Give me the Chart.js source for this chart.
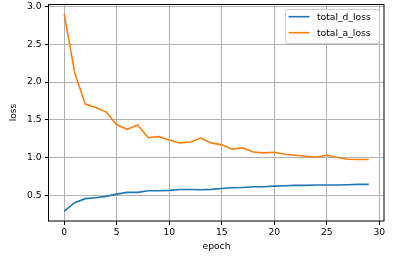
<!DOCTYPE html>
<html>
<head>
<meta charset="utf-8">
<script src="https://cdn.jsdelivr.net/npm/chart.js@4"></script>
<style>
  html, body { margin: 0; padding: 0; background: #fff; }
  #wrap { width: 403px; height: 262px; }
</style>
</head>
<body>
<div id="wrap"><canvas id="lossChart"></canvas></div>
<script>
var epochs = [0,1,2,3,4,5,6,7,8,9,10,11,12,13,14,15,16,17,18,19,20,21,22,23,24,25,26,27,28,29];
var totalDLoss = [0.297,0.407,0.460,0.473,0.490,0.520,0.543,0.543,0.565,0.565,0.569,0.580,0.580,0.578,0.582,0.595,0.604,0.607,0.617,0.617,0.626,0.630,0.635,0.635,0.640,0.640,0.640,0.643,0.648,0.648];
var totalALoss = [2.90,2.12,1.708,1.664,1.603,1.436,1.375,1.432,1.265,1.279,1.235,1.196,1.209,1.260,1.196,1.170,1.112,1.130,1.077,1.064,1.072,1.046,1.033,1.020,1.010,1.033,1.003,0.980,0.976,0.976];
var yTicks = [0.5, 1.0, 1.5, 2.0, 2.5, 3.0];
var xTicks = [0, 5, 10, 15, 20, 25, 30];

var FONT = { family: 'DejaVu Sans', size: 9.2 };

// frame (all four spines) + matplotlib-like legend box
var framePlugin = {
   id: 'frameAndLegend',
   afterDraw: function(chart) {
      var ctx = chart.ctx;
      var a = chart.chartArea;
      ctx.save();
      ctx.strokeStyle = '#000';
      ctx.lineWidth = 1;
      ctx.strokeRect(Math.round(a.left) - 0.5, Math.round(a.top) + 0.5,
                     Math.round(a.right - a.left) + 0.5, Math.round(a.bottom - a.top) - 0.5);

      // legend
      var x = 285.5, y = 9.5, w = 94, h = 34, r = 2.5;
      ctx.beginPath();
      ctx.moveTo(x + r, y);
      ctx.arcTo(x + w, y, x + w, y + h, r);
      ctx.arcTo(x + w, y + h, x, y + h, r);
      ctx.arcTo(x, y + h, x, y, r);
      ctx.arcTo(x, y, x + w, y, r);
      ctx.closePath();
      ctx.fillStyle = 'rgba(255,255,255,0.8)';
      ctx.fill();
      ctx.strokeStyle = '#cccccc';
      ctx.lineWidth = 1;
      ctx.stroke();

      ctx.font = FONT.size + 'px ' + FONT.family;
      ctx.textBaseline = 'middle';
      ctx.textAlign = 'left';
      chart.data.datasets.forEach(function(ds, i) {
         var ly = 16.7 + i * 16;
         ctx.beginPath();
         ctx.moveTo(288.5, ly);
         ctx.lineTo(309.5, ly);
         ctx.strokeStyle = ds.borderColor;
         ctx.lineWidth = 1.6;
         ctx.stroke();
         ctx.fillStyle = '#000';
         ctx.fillText(ds.label, 317, ly + 0.5);
      });
      ctx.restore();
   }
};

var ctx = document.getElementById('lossChart').getContext('2d');
var lossChart = new Chart(ctx, {
   type: 'line',
   data: {
      labels: epochs,
      datasets: [{
         label: 'total_d_loss',
         data: totalDLoss,
         borderColor: '#1f77b4',
         backgroundColor: '#1f77b4',
         borderWidth: 1.6,
         pointRadius: 0,
         fill: false,
         tension: 0
      }, {
         label: 'total_a_loss',
         data: totalALoss,
         borderColor: '#ff7f0e',
         backgroundColor: '#ff7f0e',
         borderWidth: 1.6,
         pointRadius: 0,
         fill: false,
         tension: 0
      }]
   },
   options: {
      responsive: true,
      maintainAspectRatio: false,
      animation: false,
      layout: { padding: { top: 4, right: 19, left: 0, bottom: 0 } },
      plugins: {
         legend: { display: false },
         tooltip: { enabled: false }
      },
      scales: {
         x: {
            type: 'linear',
            min: -1.45,
            max: 30.45,
            afterFit: function(scale) {
               scale.height = 41;
               scale.paddingLeft = 0;
               scale.paddingRight = 0;
            },
            afterBuildTicks: function(scale) {
               scale.ticks = xTicks.map(function(v) { return { value: v }; });
            },
            ticks: {
               font: FONT,
               color: '#000',
               padding: 2,
               maxRotation: 0,
               callback: function(v) { return String(v); }
            },
            grid: { color: '#b0b0b0', lineWidth: 1, tickLength: 4, tickColor: '#000', tickWidth: 1 },
            border: { display: false },
            title: { display: true, text: 'epoch', font: FONT, color: '#000', padding: { top: 0, bottom: 9.8 } }
         },
         y: {
            min: 0.165,
            max: 3.03,
            afterFit: function(scale) {
               scale.width = 49;
               scale.paddingTop = 0;
               scale.paddingBottom = 0;
            },
            afterBuildTicks: function(scale) {
               scale.ticks = yTicks.map(function(v) { return { value: v }; });
            },
            ticks: {
               font: FONT,
               color: '#000',
               padding: 3.5,
               callback: function(v) { return v.toFixed(1); }
            },
            grid: { color: '#b0b0b0', lineWidth: 1, tickLength: 4, tickColor: '#000', tickWidth: 1 },
            border: { display: false },
            title: { display: true, text: 'loss', font: FONT, color: '#000', padding: { top: 8.5, bottom: 0 } }
         }
      }
   },
   plugins: [framePlugin]
});
</script>
</body>
</html>
